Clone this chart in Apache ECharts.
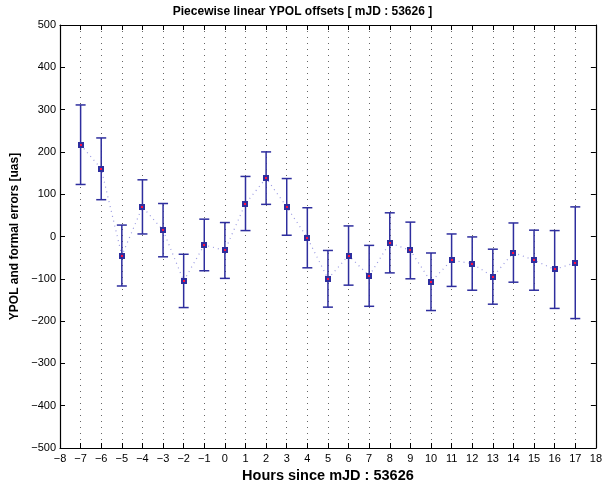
<!DOCTYPE html>
<html>
<head>
<meta charset="utf-8">
<script src="https://cdn.jsdelivr.net/npm/echarts@6/dist/echarts.min.js"></script>
<style>html,body{margin:0;padding:0;background:#fff;}#c{width:605px;height:489px;}</style>
</head>
<body>
<div id="c"></div>
<script>
var hours = [-7,-6,-5,-4,-3,-2,-1,0,1,2,3,4,5,6,7,8,9,10,11,12,13,14,15,16,17];
var ypol  = [217,160,-45,70,15,-105,-20,-33,78,138,70,-3,-100,-45,-93,-15,-33,-107,-56,-64,-95,-38,-56,-78,-62];
var sigma = [94,73,72,64,63,63,61,66,64,62,67,71,67,70,72,71,67,68,62,63,65,70,71,92,132];
var xTicks = [-8,18,1];
var yTicks = [-500,500,100];

var chart = echarts.init(document.getElementById('c'), null, {renderer:'canvas'});
var font = 'Liberation Sans, Arial, Helvetica, sans-serif';
function minus(v){ return String(v).replace('-', '\u2212'); }

var ebData = hours.map(function(h,i){ return [h, ypol[i], ypol[i]-sigma[i], ypol[i]+sigma[i]]; });
var lineData = hours.map(function(h,i){ return [h, ypol[i]]; });
var blue = '#2e2e9e';

chart.setOption({
  animation:false,
  title:{text:'Piecewise linear YPOL offsets [ mJD : 53626 ]', left:'center', top:1,
    textStyle:{fontFamily:font, fontSize:12, fontWeight:'bold', color:'#000'}},
  grid:{left:60, right:8, top:25, bottom:41},
  xAxis:[{
    type:'value', min:xTicks[0], max:xTicks[1], interval:xTicks[2],
    name:'Hours since mJD : 53626', nameLocation:'middle', nameGap:17,
    nameTextStyle:{fontFamily:font, fontSize:14.5, fontWeight:'bold', color:'#000'},
    axisLine:{onZero:false, lineStyle:{color:'#000', width:1.2}},
    axisTick:{inside:true, length:5, lineStyle:{color:'#000'}},
    axisLabel:{fontFamily:font, fontSize:11, color:'#000', margin:5, formatter:minus, showMinLabel:true, showMaxLabel:true},
    splitLine:{show:true, lineStyle:{color:'#666', type:[1,5], width:1}}
  },{
    type:'value', position:'top', min:xTicks[0], max:xTicks[1], interval:xTicks[2],
    axisLine:{onZero:false, lineStyle:{color:'#000', width:1.2}},
    axisTick:{inside:true, length:5, lineStyle:{color:'#000'}},
    axisLabel:{show:false}, splitLine:{show:false}
  }],
  yAxis:[{
    type:'value', min:yTicks[0], max:yTicks[1], interval:yTicks[2],
    name:'YPOL and formal errors [uas]', nameLocation:'middle', nameGap:32,
    nameTextStyle:{fontFamily:font, fontSize:12, fontWeight:'bold', color:'#000'},
    axisLine:{show:true, onZero:false, lineStyle:{color:'#000', width:1.2}},
    axisTick:{show:true, inside:true, length:5, lineStyle:{color:'#000'}},
    axisLabel:{fontFamily:font, fontSize:11, color:'#000', margin:4, formatter:minus},
    splitLine:{show:false}
  },{
    type:'value', position:'right', min:yTicks[0], max:yTicks[1], interval:yTicks[2],
    axisLine:{show:true, onZero:false, lineStyle:{color:'#000', width:1.2}},
    axisTick:{show:true, inside:true, length:5, lineStyle:{color:'#000'}},
    axisLabel:{show:false}, splitLine:{show:false}
  }],
  series:[{
    type:'line', data:lineData, symbol:'none', z:2,
    lineStyle:{color:'#9a9ae0', width:1.2, type:[1,4]}
  },{
    type:'custom', data:ebData, z:3,
    encode:{x:0, y:[1,2,3]},
    renderItem:function(params, api){
      var x = api.value(0);
      var c = api.coord([x, api.value(1)]);
      var lo = api.coord([x, api.value(2)]);
      var hi = api.coord([x, api.value(3)]);
      var cx = Math.round(c[0]), cy = Math.round(c[1]);
      var cap = 5;
      var st = {stroke:blue, lineWidth:1.5, fill:null};
      return {type:'group', children:[
        {type:'line', shape:{x1:c[0], y1:hi[1], x2:c[0], y2:lo[1]}, style:st},
        {type:'line', shape:{x1:c[0]-cap, y1:hi[1], x2:c[0]+cap, y2:hi[1]}, style:st},
        {type:'line', shape:{x1:c[0]-cap, y1:lo[1], x2:c[0]+cap, y2:lo[1]}, style:st},
        {type:'rect', shape:{x:cx-3, y:cy-3, width:6, height:6}, style:{fill:blue}},
        {type:'rect', shape:{x:cx-1, y:cy-1, width:2, height:2}, style:{fill:'#ff1040'}, z2:10}
      ]};
    }
  }]
});
</script>
</body>
</html>
